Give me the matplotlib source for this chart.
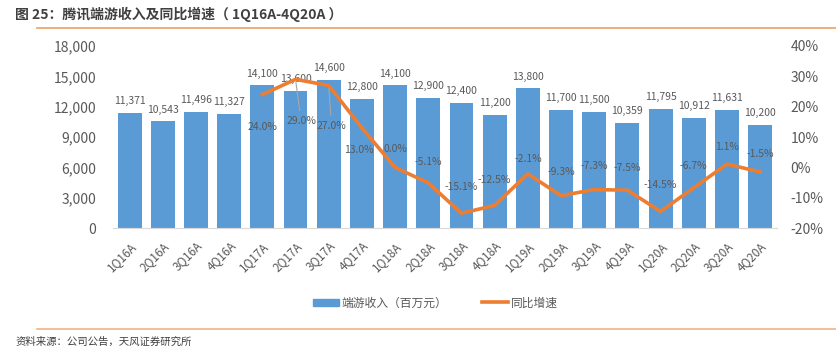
import numpy as np
import matplotlib.pyplot as plt
from matplotlib.lines import Line2D
from matplotlib.patches import Patch

plt.rcParams['font.family'] = ['Noto Sans CJK SC', 'DejaVu Sans']

# data
quarters = ['1Q16A', '2Q16A', '3Q16A', '4Q16A', '1Q17A', '2Q17A', '3Q17A', '4Q17A',
            '1Q18A', '2Q18A', '3Q18A', '4Q18A', '1Q19A', '2Q19A', '3Q19A', '4Q19A',
            '1Q20A', '2Q20A', '3Q20A', '4Q20A']
revenue = [11371, 10543, 11496, 11327, 14100, 13600, 14600, 12800,
           14100, 12900, 12400, 11200, 13800, 11700, 11500, 10359,
           11795, 10912, 11631, 10200]
yoy_quarters = quarters[4:]
yoy = [24.0, 29.0, 27.0, 13.0, 0.0, -5.1, -15.1, -12.5,
       -2.1, -9.3, -7.3, -7.5, -14.5, -6.7, 1.1, -1.5]

# label offsets (points) for the growth labels
yoy_off = [(0, -23), (4, -30), (2, -29), (-2, -16), (0, 13), (0, 15), (0, 19), (0, 18),
           (0, 11), (0, 17), (0, 17), (0, 16), (0, 19), (0, 16), (0, 12), (0, 13)]

blue = '#5B9BD5'
orange = '#ED7D31'
gray = '#595959'

fig = plt.figure(figsize=(8.37, 3.51), dpi=100)
ax = fig.add_axes([0.135, 0.350, 0.793, 0.519])
x = np.arange(len(quarters))
ax.bar(x, revenue, width=0.72, color=blue, zorder=2)
for xi, v in zip(x, revenue):
    ax.annotate(f'{v:,}', (xi, v), xytext=(0, 5), textcoords='offset points',
                ha='center', va='bottom', fontsize=7.5, color=gray)

ax.set_xlim(-0.5, len(quarters) - 0.5)
ax.set_ylim(0, 18000)
ax.set_yticks(np.arange(0, 18001, 3000))
ax.set_yticklabels([f'{t:,}' for t in range(0, 18001, 3000)])
ax.set_xticks(x)
ax.set_xticklabels(quarters, rotation=45, ha='right', va='top', rotation_mode='anchor')
ax.tick_params(axis='x', length=0, pad=8, labelsize=8.5, labelcolor=gray)
ax.tick_params(axis='y', length=0, pad=12, labelsize=10, labelcolor=gray)
for s in ['top', 'right', 'left']:
    ax.spines[s].set_visible(False)
ax.spines['bottom'].set_color('#D9D9D9')

ax2 = ax.twinx()
xl = np.arange(4, len(quarters))
ax2.plot(xl, yoy, color=orange, lw=2.6, zorder=3)
ax2.set_ylim(-20, 40)
ax2.set_yticks(np.arange(-20, 41, 10))
ax2.set_yticklabels([f'{t}%' for t in range(-20, 41, 10)])
ax2.tick_params(axis='y', length=0, pad=10, labelsize=10, labelcolor=gray)
for s in ['top', 'right', 'left', 'bottom']:
    ax2.spines[s].set_visible(False)
for i, (xi, v) in enumerate(zip(xl, yoy)):
    dx, dy = yoy_off[i]
    arrow = dict(arrowstyle='-', color='#A6A6A6', lw=0.8) if i in (1, 2) else None
    ax2.annotate(f'{v:.1f}%', (xi, v), xytext=(dx, dy), textcoords='offset points',
                 ha='center', va='center', fontsize=7.5, color=gray,
                 arrowprops=arrow)

# legend
handles = [Patch(color=blue), Line2D([], [], color=orange, lw=2.6)]
fig.legend(handles, ['端游收入（百万元）', '同比增速'], loc='center',
           bbox_to_anchor=(0.52, 0.137), ncol=2, frameon=False, fontsize=8.5,
           labelcolor=gray, handlelength=2.2, handleheight=0.6, columnspacing=3.0,
           handletextpad=0.2)

# title, rules and source
fig.text(0.018, 0.958, '图 25：腾讯端游收入及同比增速（ 1Q16A-4Q20A ）', fontsize=10,
         fontweight='bold', color='#404040', va='center')
fig.add_artist(Line2D([0.044, 1.0], [0.921, 0.921], color='#F0A060', lw=1.2))
fig.add_artist(Line2D([0.044, 1.0], [0.062, 0.062], color='#F5B283', lw=1.2))
fig.text(0.018, 0.025, '资料来源：公司公告，天风证券研究所', fontsize=7.5,
         color='#404040', va='center')

fig.savefig('out.png', dpi=100)
